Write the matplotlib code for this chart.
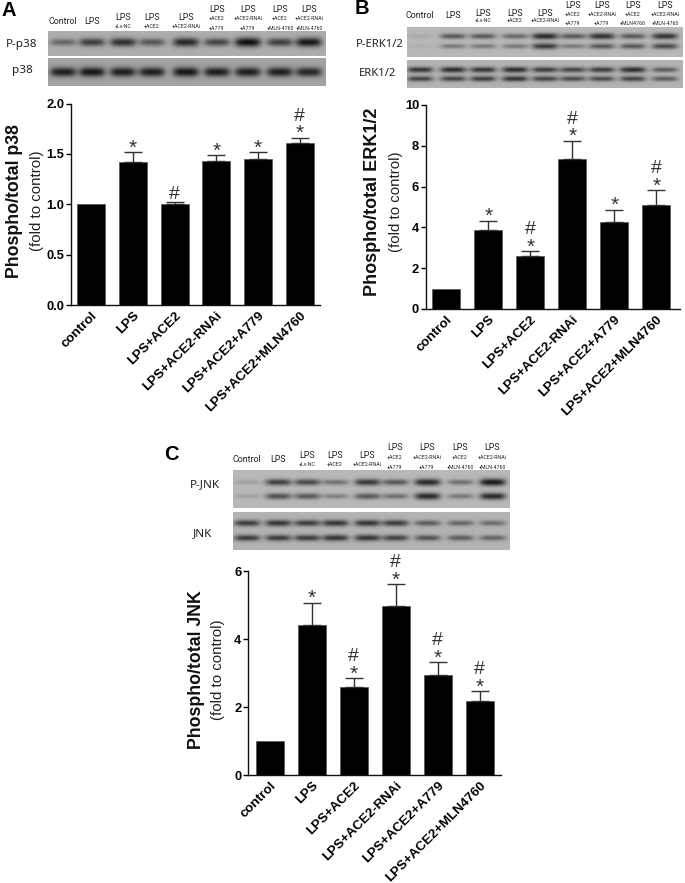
"""
Western blot panels + fold change bars (p38, ERK1/2, JNK).
"""
import matplotlib
matplotlib.use('Agg')
import matplotlib.pyplot as plt
from matplotlib.transforms import ScaledTranslation
import numpy as np

plt.rcParams.update({
    'font.family': ['Liberation Sans', 'DejaVu Sans'],
    'axes.spines.top': False, 'axes.spines.right': False,
    'axes.linewidth': 1.0,
})

W, H = 685, 883
NARROW = ['Roboto', 'Liberation Sans']
C_GREY = '#333333'

groups = ["control", "LPS", "LPS+ACE2", "LPS+ACE2-RNAi", "LPS+ACE2+A779", "LPS+ACE2+MLN4760"]

p38_vals = [1.0, 1.42, 1.0, 1.43, 1.45, 1.61]
p38_err = [0, 0.10, 0.02, 0.06, 0.07, 0.05]
p38_marks = ["", "*", "#", "*", "*", "#*"]
p38_ticks = [0, 0.5, 1.0, 1.5, 2.0]

erk_vals = [1.0, 3.85, 2.6, 7.35, 4.25, 5.1]
erk_err = [0, 0.48, 0.23, 0.9, 0.62, 0.73]
erk_marks = ["", "*", "#*", "#*", "*", "#*"]
erk_ticks = [0, 2, 4, 6, 8, 10]

jnk_vals = [1.0, 4.42, 2.6, 4.97, 2.95, 2.19]
jnk_err = [0, 0.65, 0.25, 0.65, 0.38, 0.27]
jnk_marks = ["", "*", "#*", "#*", "#*", "#*"]
jnk_ticks = [0, 2, 4, 6]

# lane labels above the blots
lanes_p38 = [["Control"], ["LPS"], ["LPS", "+Lv-NC"], ["LPS", "+ACE2"], ["LPS", "+ACE2-RNAi"],
             ["LPS", "+ACE2", "+A779"], ["LPS", "+ACE2-RNAi", "+A779"],
             ["LPS", "+ACE2", "+MLN-4760"], ["LPS", "+ACE2-RNAi", "+MLN-4760"]]
lanes_jnk = lanes_p38
lanes_erk = [["Control"], ["LPS"], ["LPS", "+Lv-NC"], ["LPS", "+ACE2"], ["LPS", "+ACE2-RNAi"],
             ["LPS", "+ACE2", "+A779"], ["LPS", "+ACE2-RNAi", "+A779"],
             ["LPS", "+ACE2", "+MLN4760"], ["LPS", "+ACE2-RNAi", "+MLN-4760"]]

# band darkness per lane, read by eye
pp38_bands = [0.45, 0.7, 0.8, 0.55, 0.85, 0.65, 1.0, 0.7, 0.95]
p38_bands = [0.85, 0.9, 0.85, 0.85, 0.9, 0.85, 0.85, 0.85, 0.8]
perk_up = [0.1, 0.6, 0.6, 0.5, 0.9, 0.6, 0.85, 0.6, 0.85]
perk_lo = [0.06, 0.4, 0.4, 0.4, 0.8, 0.4, 0.6, 0.6, 0.7]
terk_up = [0.8, 0.85, 0.8, 0.85, 0.75, 0.7, 0.75, 0.85, 0.55]
terk_lo = [0.7, 0.7, 0.75, 0.8, 0.7, 0.65, 0.65, 0.7, 0.55]
pjnk_up = [0.15, 0.75, 0.7, 0.45, 0.8, 0.6, 0.9, 0.45, 1.0]
pjnk_lo = [0.15, 0.65, 0.6, 0.35, 0.6, 0.45, 0.9, 0.4, 0.9]
tjnk_up = [0.75, 0.8, 0.75, 0.8, 0.8, 0.75, 0.55, 0.5, 0.45]
tjnk_lo = [0.75, 0.75, 0.75, 0.8, 0.8, 0.7, 0.6, 0.55, 0.5]

fig = plt.figure(figsize=(W/100, H/100), dpi=100)

# overlay in pixel coordinates for blot labels
ov = fig.add_axes([0, 0, 1, 1], zorder=5)
ov.set_xlim(0, W); ov.set_ylim(H, 0); ov.axis('off')


def blot(x0, x1, y0, y1, lanes_x, rows, bg=0.68, lane_w=13.0, band_h=3.2):
    """rows = [(y centre in px, strengths), ...]"""
    nx, ny = int(x1-x0)*2, int(y1-y0)*2
    xx, yy = np.meshgrid(np.linspace(x0, x1, nx), np.linspace(y0, y1, ny))
    img = np.full((ny, nx), bg)
    for yc, strengths in rows:
        for lx, s in zip(lanes_x, strengths):
            d = np.exp(-((xx-lx)/lane_w)**4 - ((yy-yc)/(band_h*(0.6+0.5*s)))**2)
            img -= d*s*0.62
    ax = fig.add_axes([x0/W, 1-y1/H, (x1-x0)/W, (y1-y0)/H])
    ax.imshow(np.clip(img, 0.05, 1), cmap='gray', vmin=0, vmax=1, aspect='auto', interpolation='bilinear')
    ax.axis('off')


def lane_labels(lanes_x, labels, y_one, ys_two, ys_three):
    for lx, lines in zip(lanes_x, labels):
        if len(lines) == 1:
            ov.text(lx, y_one, lines[0], family=NARROW, fontsize=6.4, ha='center', va='center', color='#222222')
        else:
            ys = ys_two if len(lines) == 2 else ys_three
            for i, (line, y) in enumerate(zip(lines, ys)):
                ov.text(lx, y, line, family=NARROW, fontsize=6.4 if i == 0 else 3.8,
                        ha='center', va='center', color='#222222')


def bars(x_spine, x_end, y_top, y_zero, x_first, step, vals, errs, marks, ticks, ymax, name, lab_x, fold_x, lab_y, lab_fs):
    ax = fig.add_axes([x_spine/W, 1-y_zero/H, (x_end-x_spine)/W, (y_zero-y_top)/H])
    xs = np.arange(len(vals))
    ax.bar(xs, vals, width=28/step, color='black', edgecolor='#555555', linewidth=0.5, zorder=2)
    for x, v, e in zip(xs, vals, errs):
        if e > 0:
            ax.errorbar(x, v, yerr=[[0], [e]], color=C_GREY, capsize=6.5, capthick=1.0, elinewidth=1.0, zorder=3)
    ax.set_xlim(-(x_first-x_spine)/step, (x_end-x_first)/step)
    ax.set_ylim(0, ymax)
    ax.set_yticks(ticks)
    ax.set_yticklabels([f'{t:.1f}' if ymax == 2 else f'{t}' for t in ticks], fontsize=9.3, fontweight='bold')
    ax.set_xticks(xs)
    ax.set_xticklabels(groups, rotation=45, ha='right', rotation_mode='anchor', fontsize=9.6, fontweight='bold')
    shift = ScaledTranslation(-3.5/100, 0, fig.dpi_scale_trans)
    for lab in ax.get_xticklabels():
        lab.set_transform(lab.get_transform() + shift)
    ax.tick_params(axis='y', length=3.5, width=1.0, pad=1.5)
    ax.tick_params(axis='x', length=0, pad=3)
    for spine in ax.spines.values():
        spine.set_color('#111111')
    # significance marks
    for x, v, e, m in zip(xs, vals, errs, marks):
        top = v + e
        off = 0
        for c in m[::-1]:
            if c == '*':
                ax.annotate('*', (x, top), xytext=(0, off-4), textcoords='offset points', ha='center', va='bottom',
                            fontsize=15, color=C_GREY, annotation_clip=False)
                off += 10
            else:
                ax.annotate('#', (x, top), xytext=(0, off-0.5), textcoords='offset points', ha='center', va='bottom',
                            fontsize=14, color=C_GREY, annotation_clip=False)
    ov.text(lab_x, lab_y, f'Phospho/total {name}', rotation=90, ha='center', va='center',
            fontsize=lab_fs, fontweight='bold', color='#111111')
    ov.text(fold_x, lab_y, '(fold to control)', rotation=90, ha='center', va='center',
            fontsize=10.8, color='#222222')
    return ax


# ==================================================================
# PANEL A: p38
# ==================================================================
lx_a = [63, 92, 123, 152, 186, 217, 248, 280, 309]
blot(48, 326, 31, 56.5, lx_a, [(43, pp38_bands)], bg=0.68, band_h=4.2)
blot(48, 326, 58, 86, lx_a, [(72, p38_bands)], bg=0.64, band_h=4.6)
lane_labels(lx_a, lanes_p38, 21, (17, 26), (10, 18.5, 28))
ov.text(22, 44, 'P-p38', family='Noto Sans', fontsize=8.4, ha='center', va='center', color='#222222')
ov.text(22, 71, 'p38', family='Noto Sans', fontsize=8.4, ha='center', va='center', color='#222222')
ov.text(1, 11, 'A', fontsize=14.5, fontweight='bold', ha='left', va='center')
bars(71, 319.5, 103.5, 305, 91.3, 41.7, p38_vals, p38_err, p38_marks, p38_ticks, 2, 'p38', 15, 37, 201, 12.8)

# ==================================================================
# PANEL B: ERK1/2
# ==================================================================
lx_b = [420, 453, 483, 515, 545, 573, 602, 633, 665]
blot(407, 683, 27, 57.5, lx_b, [(37, perk_up), (47, perk_lo)], bg=0.72, band_h=3.0)
blot(407, 683, 59.5, 88, lx_b, [(70, terk_up), (79, terk_lo)], bg=0.70, band_h=2.8)
lane_labels(lx_b, lanes_erk, 16, (13, 20.5), (5, 14, 23))
ov.text(380, 44.5, 'P-ERK1/2', family='Noto Sans', fontsize=8.1, ha='center', va='center', color='#222222')
ov.text(378, 74, 'ERK1/2', family='Noto Sans', fontsize=8.1, ha='center', va='center', color='#222222')
ov.text(355, 9, 'B', fontsize=14.5, fontweight='bold', ha='left', va='center')
bars(426, 680, 105, 309, 446.3, 42, erk_vals, erk_err, erk_marks, erk_ticks, 10, 'ERK1/2', 373, 396, 202, 13.0)

# ==================================================================
# PANEL C: JNK
# ==================================================================
lx_c = [247, 278, 307, 335, 367, 395, 427, 460, 492]
blot(233, 509, 470, 508.5, lx_c, [(483, pjnk_up), (497, pjnk_lo)], bg=0.72, band_h=3.3)
blot(233, 509, 512, 550, lx_c, [(523, tjnk_up), (538, tjnk_lo)], bg=0.70, band_h=3.2)
lane_labels(lx_c, lanes_jnk, 460, (456, 464.5), (448, 457, 467))
ov.text(205, 485, 'P-JNK', family='Noto Sans', fontsize=8.4, ha='center', va='center', color='#222222')
ov.text(203, 534, 'JNK', family='Noto Sans', fontsize=8.4, ha='center', va='center', color='#222222')
ov.text(164, 455, 'C', fontsize=14.5, fontweight='bold', ha='left', va='center')
bars(248.3, 500.7, 571, 775, 269.7, 42, jnk_vals, jnk_err, jnk_marks, jnk_ticks, 6, 'JNK', 196.5, 218.5, 670, 12.8)

fig.savefig('out.png', dpi=100)
plt.close()
